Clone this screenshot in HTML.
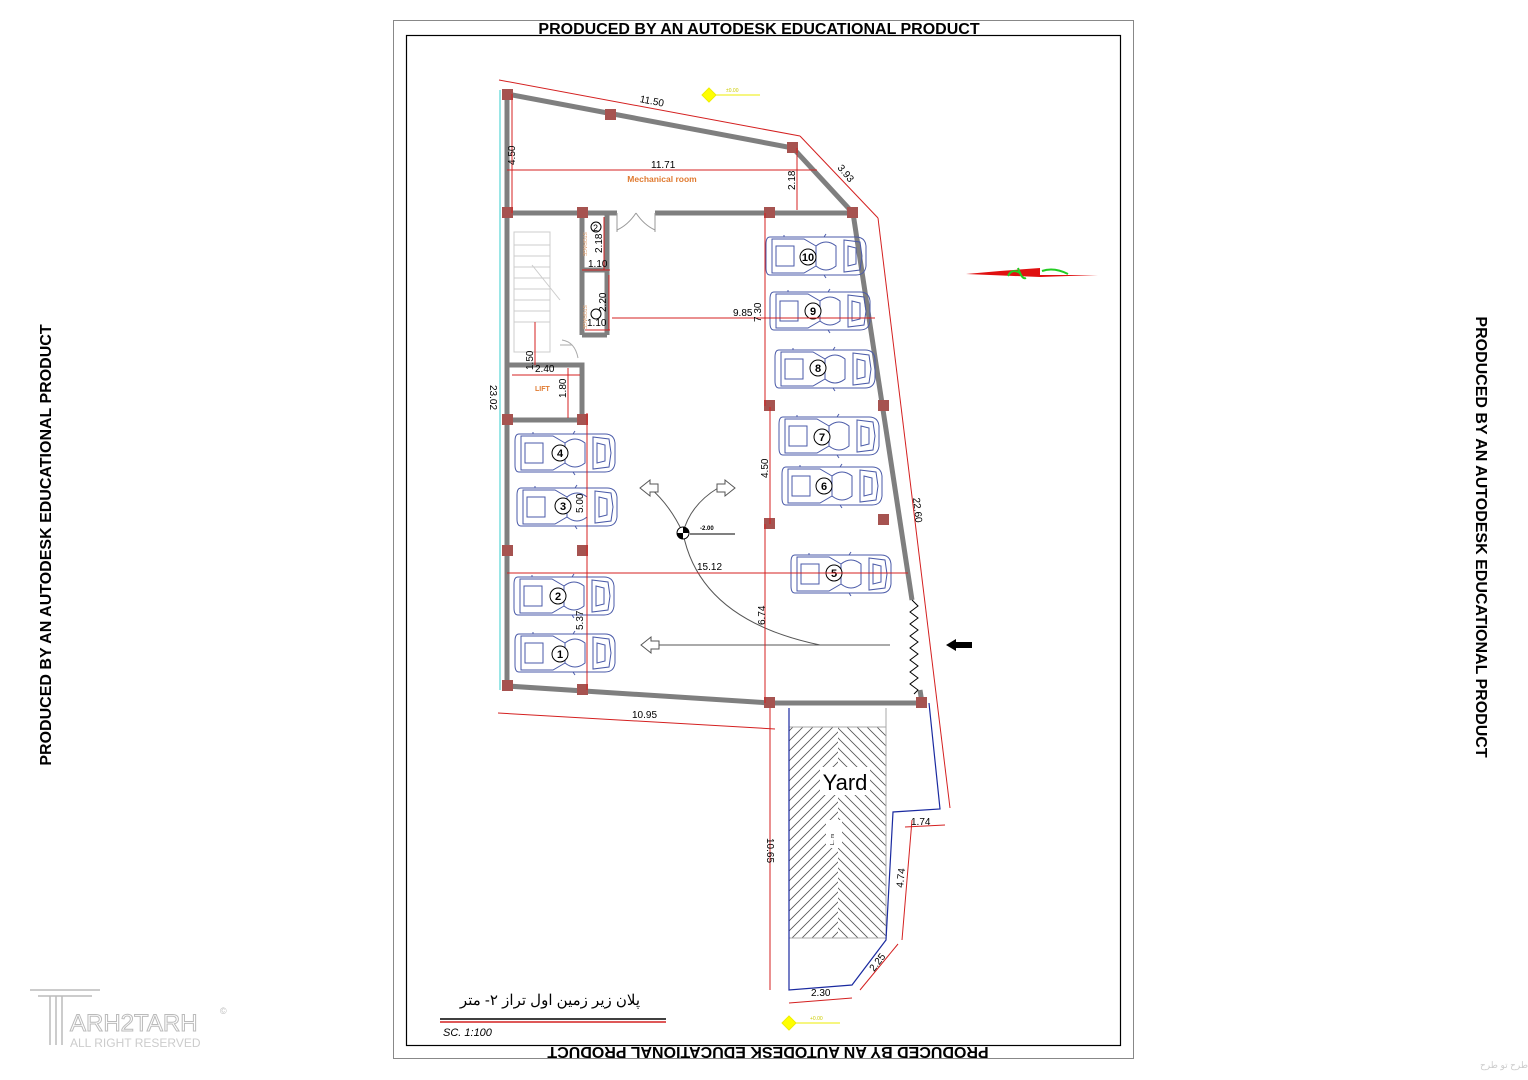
<!DOCTYPE html>
<html><head><meta charset="utf-8"><style>
html,body{margin:0;padding:0;background:#fff;}
svg{display:block;}
text{font-family:"Liberation Sans",sans-serif;}
</style></head><body>
<svg width="1528" height="1080" viewBox="0 0 1528 1080" xmlns="http://www.w3.org/2000/svg">
<defs>
<symbol id="car" viewBox="0 0 104 44" overflow="visible">
<g fill="none" stroke="#4a5aa8" stroke-width="1">
<path d="M6 3 Q2 3 2 10 L2 34 Q2 41 6 41 L92 41 Q101 41 102 32 L102 12 Q101 3 92 3 Z"/>
<path d="M8 5 L40 5 L52 12 L52 32 L40 39 L8 39 Z"/>
<path d="M52 12 Q62 4 72 12 L72 32 Q62 40 52 32"/>
<path d="M80 6 L96 8 L98 22 L96 36 L80 38 Z"/>
<rect x="12" y="12" width="18" height="20"/>
<path d="M84 12 L92 14 L92 30 L84 32 Z"/>
<path d="M20 3 L20 1 M60 3 L62 0 M60 41 L62 44"/>
</g>
</symbol>
<pattern id="hl" width="10" height="10" patternUnits="userSpaceOnUse">
<path d="M-1 1 L1 -1 M0 10 L10 0 M9 11 L11 9" stroke="#555" stroke-width="0.8"/>
</pattern>
<pattern id="hr" width="10" height="10" patternUnits="userSpaceOnUse">
<path d="M-1 9 L1 11 M0 0 L10 10 M9 -1 L11 1" stroke="#555" stroke-width="0.8"/>
</pattern>
</defs>

<!-- frames -->
<rect x="393.5" y="20.5" width="740" height="1038" fill="none" stroke="#888" stroke-width="1"/>
<rect x="406.5" y="35.5" width="714" height="1010" fill="none" stroke="#000" stroke-width="1.2"/>
<text x="759" y="34" font-size="16" font-weight="bold" text-anchor="middle">PRODUCED BY AN AUTODESK EDUCATIONAL PRODUCT</text>
<text transform="translate(768,1047) rotate(180)" font-size="16" font-weight="bold" text-anchor="middle">PRODUCED BY AN AUTODESK EDUCATIONAL PRODUCT</text>
<text transform="translate(51,545) rotate(-90)" font-size="16" font-weight="bold" text-anchor="middle">PRODUCED BY AN AUTODESK EDUCATIONAL PRODUCT</text>
<text transform="translate(1476,537) rotate(90)" font-size="16" font-weight="bold" text-anchor="middle">PRODUCED BY AN AUTODESK EDUCATIONAL PRODUCT</text>

<line x1="500" y1="90" x2="500" y2="690" stroke="#3cc" stroke-width="1"/>

<!-- stairs -->
<g stroke="#ccc" stroke-width="1" fill="none">
<rect x="514" y="232" width="36" height="120"/>
<path d="M514 245h36M514 256h36M514 267h36M514 278h36M514 289h36M514 300h36M514 311h36M514 322h36"/>
<line x1="532" y1="265" x2="560" y2="300"/>
</g>
<path d="M560 345 L572 345 M562 340 Q575 342 578 358" stroke="#aaa" fill="none"/>

<!-- walls -->
<g stroke="#7f7f7f" stroke-width="5" fill="none" stroke-linejoin="miter">
<path d="M507 94 L793 148 L853 213 L912 600"/>
<path d="M920 690 L922 703 L770 703 L507 686"/>
<line x1="507" y1="94" x2="507" y2="686"/>
<path d="M507 213 L617 213 M655 213 L853 213"/>
<path d="M582 213 L582 335 M607 213 L607 335 M582 335 L607 335 M582 270 L607 270"/>
<path d="M507 365 L582 365 L582 420 M507 420 L582 420"/>
</g>
<path d="M912 600 l6 6 -8 6 8 6 -8 6 8 6 -8 6 8 6 -8 6 8 6 -8 6 8 6 -8 6 8 6 -8 6 8 6 -4 4" stroke="#000" fill="none" stroke-width="1"/>
<path d="M617 213 L617 232 M655 213 L655 232 M617 230 Q628 225 636 213 M655 230 Q644 225 636 213" stroke="#999" fill="none"/>

<!-- columns -->
<g fill="#a65350">
<rect x="502" y="89" width="11" height="11"/><rect x="605" y="109" width="11" height="11"/>
<rect x="787" y="142" width="11" height="11"/><rect x="847" y="207" width="11" height="11"/>
<rect x="502" y="207" width="11" height="11"/><rect x="577" y="207" width="11" height="11"/>
<rect x="764" y="207" width="11" height="11"/><rect x="502" y="414" width="11" height="11"/>
<rect x="577" y="414" width="11" height="11"/><rect x="764" y="400" width="11" height="11"/>
<rect x="878" y="400" width="11" height="11"/><rect x="764" y="518" width="11" height="11"/>
<rect x="878" y="514" width="11" height="11"/>
<rect x="502" y="545" width="11" height="11"/><rect x="577" y="545" width="11" height="11"/>
<rect x="502" y="680" width="11" height="11"/><rect x="577" y="684" width="11" height="11"/>
<rect x="764" y="697" width="11" height="11"/><rect x="916" y="697" width="11" height="11"/>
</g>

<!-- cars -->
<use href="#car" x="513" y="431" width="104" height="44"/>
<use href="#car" x="515" y="485" width="104" height="44"/>
<use href="#car" x="512" y="574" width="104" height="44"/>
<use href="#car" x="513" y="631" width="104" height="44"/>
<use href="#car" x="764" y="233" width="104" height="46"/>
<use href="#car" x="768" y="288" width="104" height="46"/>
<use href="#car" x="773" y="346" width="104" height="46"/>
<use href="#car" x="777" y="413" width="104" height="46"/>
<use href="#car" x="780" y="463" width="104" height="46"/>
<use href="#car" x="789" y="551" width="104" height="46"/>
<g font-family="Liberation Serif,serif" font-size="11" font-weight="bold" text-anchor="middle">
<g fill="#fff" stroke="#000" stroke-width="1">
<circle cx="560" cy="453" r="8"/><circle cx="563" cy="506" r="8"/><circle cx="558" cy="596" r="8"/><circle cx="560" cy="654" r="8"/>
<circle cx="808" cy="257" r="8"/><circle cx="813" cy="311" r="8"/><circle cx="818" cy="368" r="8"/><circle cx="822" cy="437" r="8"/><circle cx="824" cy="486" r="8"/><circle cx="834" cy="573" r="8"/>
</g>
<text x="560" y="457">4</text><text x="563" y="510">3</text><text x="558" y="600">2</text><text x="560" y="658">1</text>
<text x="808" y="261">10</text><text x="813" y="315">9</text><text x="818" y="372">8</text><text x="822" y="441">7</text><text x="824" y="490">6</text><text x="834" y="577">5</text>
</g>

<!-- circulation -->
<g stroke="#555" fill="none" stroke-width="1">
<path d="M683 533 Q670 505 650 488"/>
<path d="M683 533 Q690 505 718 488"/>
<path d="M683 533 Q700 620 820 645 L890 645"/>
<line x1="655" y1="645" x2="890" y2="645"/>
<line x1="690" y1="534" x2="735" y2="534" stroke="#000"/>
<path d="M640 488 l10 -8 0 4 8 0 0 8 -8 0 0 4 z" fill="#fff"/>
<path d="M735 488 l-10 -8 0 4 -8 0 0 8 8 0 0 4 z" fill="#fff"/>
<path d="M641 645 l10 -8 0 4 8 0 0 8 -8 0 0 4 z" fill="#fff"/>
</g>
<circle cx="683" cy="533" r="6" fill="#fff" stroke="#000"/>
<path d="M683 527 A6 6 0 0 1 689 533 L683 533 Z M683 539 A6 6 0 0 1 677 533 L683 533Z" fill="#000"/>
<text x="700" y="530" font-size="6" font-weight="bold">-2.00</text>
<path d="M946 645 l10 -6 0 3 16 0 0 6 -16 0 0 3 z" fill="#000"/>

<!-- dimensions -->
<g stroke="#d42020" stroke-width="1" fill="none">
<line x1="499" y1="80" x2="800" y2="136"/>
<line x1="800" y1="136" x2="878" y2="218"/>
<line x1="878" y1="218" x2="950" y2="808"/>
<line x1="512" y1="94" x2="512" y2="213"/>
<line x1="507" y1="170" x2="817" y2="170"/>
<line x1="797" y1="148" x2="797" y2="210"/>
<line x1="498" y1="713" x2="775" y2="729"/>
<line x1="507" y1="573" x2="908" y2="573"/>
<line x1="587" y1="413" x2="587" y2="690"/>
<line x1="765" y1="213" x2="765" y2="406"/>
<line x1="770" y1="407" x2="770" y2="524"/>
<line x1="765" y1="524" x2="765" y2="703"/>
<line x1="612" y1="318" x2="875" y2="318"/>
<line x1="604" y1="217" x2="604" y2="270"/>
<line x1="582" y1="270" x2="610" y2="270"/>
<line x1="609" y1="275" x2="609" y2="330"/>
<line x1="585" y1="330" x2="610" y2="330"/>
<line x1="535" y1="322" x2="535" y2="365"/>
<line x1="512" y1="375" x2="580" y2="375"/>
<line x1="568" y1="368" x2="568" y2="418"/>
<line x1="770" y1="708" x2="770" y2="990"/>
<line x1="905" y1="827" x2="945" y2="825"/>
<line x1="912" y1="820" x2="902" y2="940"/>
<line x1="898" y1="944" x2="860" y2="990"/>
<line x1="789" y1="1003" x2="852" y2="998"/>
</g>
<g font-family="Liberation Serif,serif" font-size="10" fill="#000">
<text x="640" y="104" transform="rotate(11 650 100)">11.50</text>
<text x="651" y="168">11.71</text>
<text transform="translate(515,165) rotate(-90)">4.50</text>
<text transform="translate(795,190) rotate(-90)">2.18</text>
<text transform="translate(837,168) rotate(50)">3.93</text>
<text transform="translate(490,385) rotate(90)">23.02</text>
<text transform="translate(913,498) rotate(84)">22.60</text>
<text x="632" y="718">10.95</text>
<text x="697" y="570">15.12</text>
<text x="733" y="316">9.85</text>
<text transform="translate(761,322) rotate(-90)">7.30</text>
<text transform="translate(768,478) rotate(-90)">4.50</text>
<text transform="translate(765,625) rotate(-90)">6.74</text>
<text transform="translate(583,513) rotate(-90)">5.00</text>
<text transform="translate(583,630) rotate(-90)">5.37</text>
<text transform="translate(602,253) rotate(-90)">2.18</text>
<text x="588" y="267">1.10</text>
<text transform="translate(606,312) rotate(-90)">2.20</text>
<text x="587" y="326">1.10</text>
<text transform="translate(533,370) rotate(-90)">1.50</text>
<text x="535" y="372">2.40</text>
<text transform="translate(566,398) rotate(-90)">1.80</text>
<text transform="translate(767,838) rotate(90)">10.65</text>
<text x="911" y="825">1.74</text>
<text transform="translate(903,888) rotate(-84)">4.74</text>
<text transform="translate(874,972) rotate(-52)">2.25</text>
<text x="811" y="996">2.30</text>
</g>
<text x="662" y="182" font-size="8.5" fill="#e07a30" font-weight="bold" text-anchor="middle">Mechanical room</text>
<text x="535" y="391" font-size="7" fill="#e07a30" font-weight="bold">LIFT</text>
<text transform="translate(583,232) rotate(90)" font-size="5" fill="#e0a070">STORAGE</text>
<text transform="translate(583,305) rotate(90)" font-size="5" fill="#e0a070">STORAGE</text>
<circle cx="596" cy="227" r="5" fill="none" stroke="#000"/><text x="593" y="231" font-size="9">2</text>
<circle cx="596" cy="314" r="5" fill="none" stroke="#000"/>

<!-- yard -->
<rect x="789" y="727" width="49" height="211" fill="url(#hl)"/>
<rect x="838" y="727" width="48" height="211" fill="url(#hr)"/>
<rect x="789" y="727" width="97" height="211" fill="none" stroke="#aaa"/>
<line x1="886" y1="708" x2="886" y2="727" stroke="#aaa"/>
<path d="M789 708 L789 990 L852 985 L886 940 L893 812 L940 809 L929 703" fill="none" stroke="#1a2aa0" stroke-width="1.2"/>
<rect x="820" y="767" width="50" height="28" fill="#fff"/>
<text x="845" y="790" font-family="Liberation Serif,serif" font-size="22" text-anchor="middle">Yard</text>
<rect x="826" y="820" width="16" height="28" fill="#fff"/>
<text transform="translate(834,845) rotate(-90)" font-size="5">L.. m</text>

<!-- level marks -->
<g fill="#ff0" stroke="#ee0">
<path d="M709 88 l7 7 -7 7 -7 -7 z"/><line x1="716" y1="95" x2="760" y2="95"/>
<path d="M789 1016 l7 7 -7 7 -7 -7 z"/><line x1="796" y1="1023" x2="840" y2="1023"/>
</g>
<text x="726" y="92" font-size="5" fill="#cc0">±0.00</text>
<text x="810" y="1020" font-size="5" fill="#cc0">+0.00</text>
<path d="M966 274 L1000 271 L1040 268 L1040 275 L1098 275 L1040 277 Z" fill="#e01010"/>
<path d="M1008 276 q4 -8 12 -3 M1018 268 q4 12 8 10 M1042 271 q12 -4 26 3" stroke="#2c2" stroke-width="2" fill="none"/>

<!-- title -->
<text x="550" y="1005" font-family="'Noto Sans CJK SC',sans-serif" font-size="15" text-anchor="middle">پلان زیر زمین اول تراز ۲- متر</text>
<line x1="440" y1="1019" x2="666" y2="1019" stroke="#000" stroke-width="1.5"/>
<line x1="440" y1="1022" x2="666" y2="1022" stroke="#d42020" stroke-width="1.5"/>
<text x="443" y="1036" font-size="11" font-style="italic">SC.  1:100</text>

<g stroke="#bbb" fill="none" stroke-width="1.5">
<path d="M30 990 L100 990 M38 996 L92 996 M50 996 L50 1045 M56 996 L56 1045 M62 996 L62 1045"/>
</g>
<text x="70" y="1031" font-size="24" fill="none" stroke="#bbb" stroke-width="1">ARH2TARH</text>
<text x="70" y="1047" font-size="12" fill="#ccc">ALL RIGHT RESERVED</text>
<text x="220" y="1014" font-size="9" fill="#bbb">©</text>
<text x="1480" y="1068" font-size="9" fill="#ccc">طرح تو طرح</text>
</svg>
</body></html>
